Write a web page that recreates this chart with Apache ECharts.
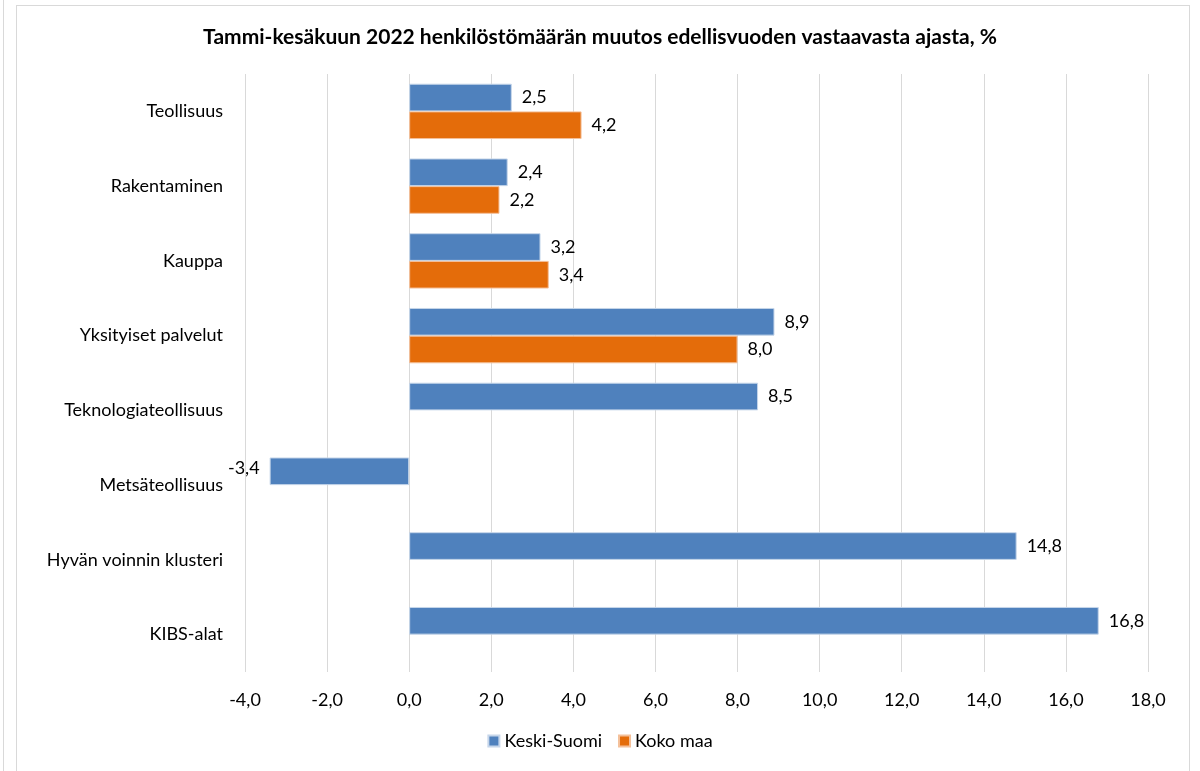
<!DOCTYPE html>
<html>
<head>
<meta charset="utf-8">
<script src="https://cdn.jsdelivr.net/npm/echarts@6/dist/echarts.min.js"></script>
<style>
    html, body { margin: 0; padding: 0; background: #fff; }
    #outer { position: absolute; left: 3px; top: -2px; width: 1px; height: 780px; background: #d9d9d9; }
    #frame { position: absolute; left: 16px; top: 5px; width: 1174px; height: 780px; border: 1px solid #d9d9d9; box-sizing: border-box; }
    #container { position: absolute; left: 0; top: 0; width: 1200px; height: 771px; }
</style>
</head>
<body>
<div id="outer"></div>
<div id="frame"></div>
<div id="container"></div>
<script type="text/javascript">
    // data
    var categories = ['Teollisuus', 'Rakentaminen', 'Kauppa', 'Yksityiset palvelut',
        'Teknologiateollisuus', 'Metsäteollisuus', 'Hyvän voinnin klusteri', 'KIBS-alat'];
    var keskiSuomi = [2.5, 2.4, 3.2, 8.9, 8.5, -3.4, 14.8, 16.8];
    var kokoMaa = [4.2, 2.2, 3.4, 8.0, null, null, null, null];

    var fontFam = 'Lato, "Noto Sans", sans-serif';

    function fmt(v) {
        return v.toFixed(1).replace('.', ',');
    }

    var myChart = echarts.init(document.getElementById('container'));

    var ksData = keskiSuomi.map(function (v) {
        if (v < 0) {
            return {value: v, label: {position: 'left', offset: [0, -3]}};
        }
        return v;
    });

    var labelOption = {
        show: true,
        position: 'right',
        distance: 10,
        color: '#000',
        fontSize: 18,
        fontFamily: fontFam,
        formatter: function (p) { return fmt(p.value); }
    };

    var option = {
        animation: false,
        color: ['#4F81BD', '#E46C0A'],
        title: {
            text: 'Tammi-kesäkuun 2022 henkilöstömäärän muutos edellisvuoden vastaavasta ajasta, %',
            left: 'center',
            top: 22,
            textStyle: {fontSize: 21, fontWeight: 'bold', color: '#000', fontFamily: fontFam}
        },
        legend: {
            bottom: 16,
            left: 'center',
            itemWidth: 11,
            itemHeight: 11,
            itemGap: 16,
            icon: 'rect',
            textStyle: {fontSize: 18, color: '#000', fontFamily: fontFam},
            data: ['Keski-Suomi', 'Koko maa']
        },
        grid: {left: 245, right: 52, top: 74, bottom: 99},
        xAxis: {
            type: 'value',
            min: -4,
            max: 18,
            interval: 2,
            axisLine: {show: false},
            axisTick: {show: false},
            splitLine: {lineStyle: {color: '#d9d9d9', width: 1}},
            axisLabel: {
                color: '#000', fontSize: 18, fontFamily: fontFam, margin: 19,
                formatter: function (v) { return fmt(v); }
            }
        },
        yAxis: {
            type: 'category',
            inverse: true,
            data: categories,
            axisLine: {show: false},
            axisTick: {show: false},
            axisLabel: {color: '#000', fontSize: 18, fontFamily: fontFam, margin: 22}
        },
        series: [
            {
                name: 'Keski-Suomi',
                type: 'bar',
                barGap: 0,
                barCategoryGap: '26%',
                itemStyle: {borderColor: '#c6d6ea', borderWidth: 1},
                label: labelOption,
                data: ksData
            },
            {
                name: 'Koko maa',
                type: 'bar',
                itemStyle: {borderColor: '#f4c09a', borderWidth: 1},
                label: labelOption,
                data: kokoMaa
            }
        ]
    };
    myChart.setOption(option, true);
</script>
</body>
</html>
